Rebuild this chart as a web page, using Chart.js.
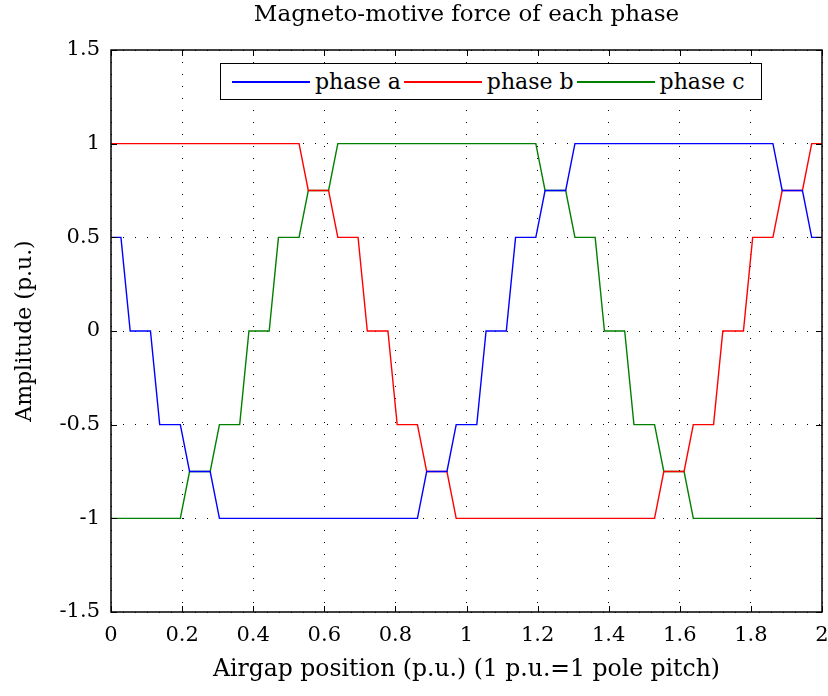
<!DOCTYPE html>
<html>
<head>
<meta charset="utf-8">
<script src="https://cdn.jsdelivr.net/npm/chart.js@4.4.1/dist/chart.umd.min.js"></script>
<style>
  html, body { margin: 0; padding: 0; background: #fff; }
  #wrap { position: relative; width: 828px; height: 696px; }
  #legend {
    position: absolute; left: 220px; top: 63px; width: 542px; height: 37px;
    box-sizing: border-box; border: 1.5px solid #000; background: #fff;
    display: flex; align-items: center; padding-left: 11px;
    font: 22px "DejaVu Serif", serif; color: #000; white-space: nowrap;
  }
  #legend .swatch { display: inline-block; width: 78px; height: 2px; margin-left: 3px; }
  #legend .swatch:first-child { margin-left: 0; }
  #legend .lbl { margin-left: 5px; }
</style>
</head>
<body>
<div id="wrap">
  <canvas id="mmf" width="828" height="696"></canvas>
  <div id="legend"></div>
</div>
<script>
// airgap position (p.u.) and mmf (p.u.) breakpoints
const posA = [0, 0.028, 0.054, 0.111, 0.137, 0.195, 0.221, 0.279, 0.305, 0.862, 0.888, 0.945, 0.971,
  1.029, 1.055, 1.112, 1.138, 1.195, 1.221, 1.279, 1.305, 1.862, 1.888, 1.945, 1.971, 2];
const mmfA = [0.5, 0.5, 0, 0, -0.5, -0.5, -0.75, -0.75, -1, -1, -0.75, -0.75, -0.5,
  -0.5, 0, 0, 0.5, 0.5, 0.75, 0.75, 1, 1, 0.75, 0.75, 0.5, 0.5];

const posB = [0, 0.529, 0.555, 0.612, 0.638, 0.695, 0.721, 0.779, 0.805, 0.862, 0.888, 0.945, 0.971,
  1.529, 1.555, 1.612, 1.638, 1.695, 1.721, 1.779, 1.805, 1.862, 1.888, 1.945, 1.971, 2];
const mmfB = [1, 1, 0.75, 0.75, 0.5, 0.5, 0, 0, -0.5, -0.5, -0.75, -0.75, -1,
  -1, -0.75, -0.75, -0.5, -0.5, 0, 0, 0.5, 0.5, 0.75, 0.75, 1, 1];

const posC = [0, 0.195, 0.221, 0.279, 0.305, 0.362, 0.388, 0.445, 0.471, 0.529, 0.555, 0.612, 0.638,
  1.195, 1.221, 1.279, 1.305, 1.362, 1.388, 1.445, 1.471, 1.529, 1.555, 1.612, 1.638, 2];
const mmfC = [-1, -1, -0.75, -0.75, -0.5, -0.5, 0, 0, 0.5, 0.5, 0.75, 0.75, 1,
  1, 0.75, 0.75, 0.5, 0.5, 0, 0, -0.5, -0.5, -0.75, -0.75, -1, -1];

const phaseLabels = ['phase a', 'phase b', 'phase c'];
const phaseColors = ['#0000ff', '#ff0000', '#008000'];

const xTickValues = [0, 0.2, 0.4, 0.6, 0.8, 1, 1.2, 1.4, 1.6, 1.8, 2];
const xTickLabels = ['0', '0.2', '0.4', '0.6', '0.8', '1', '1.2', '1.4', '1.6', '1.8', '2'];
const yTickValues = [-1.5, -1, -0.5, 0, 0.5, 1, 1.5];
const yTickLabels = ['-1.5', '-1', '-0.5', '0', '0.5', '1', '1.5'];

const FONT = '"DejaVu Serif", serif';

// box round the plot with small inward tick marks on all four sides
const framePlugin = {
  id: 'frame',
  afterDatasetsDraw(chart) {
    const { ctx, chartArea: a, scales: { x, y } } = chart;
    ctx.save();
    ctx.strokeStyle = '#000';
    ctx.lineWidth = 1;
    ctx.beginPath();
    x.ticks.forEach(t => {
      const px = Math.round(x.getPixelForValue(t.value)) + 0.5;
      ctx.moveTo(px, a.bottom); ctx.lineTo(px, a.bottom - 6);
      ctx.moveTo(px, a.top); ctx.lineTo(px, a.top + 6);
    });
    y.ticks.forEach(t => {
      const py = Math.round(y.getPixelForValue(t.value)) + 0.5;
      ctx.moveTo(a.left, py); ctx.lineTo(a.left + 6, py);
      ctx.moveTo(a.right, py); ctx.lineTo(a.right - 6, py);
    });
    ctx.stroke();
    ctx.lineWidth = 1.5;
    ctx.strokeRect(a.left, a.top, a.right - a.left, a.bottom - a.top);
    ctx.restore();
  }
};

function series(i, xs, ys) {
  return {
    label: phaseLabels[i],
    data: xs.map((p, k) => ({ x: p, y: ys[k] })),
    borderColor: phaseColors[i],
    backgroundColor: phaseColors[i],
    borderWidth: 1.4,
    pointRadius: 0,
    tension: 0,
    fill: false,
  };
}

const gridOpts = { color: '#000', lineWidth: 1, drawTicks: false };
const dotted = { display: false, dash: [1, 11] };

new Chart(document.getElementById('mmf'), {
  type: 'line',
  data: {
    datasets: [series(0, posA, mmfA), series(1, posB, mmfB), series(2, posC, mmfC)],
  },
  options: {
    responsive: false,
    animation: false,
    layout: { padding: { left: 0, right: 6, top: 0, bottom: 0 } },
    plugins: {
      legend: { display: false },
      tooltip: { enabled: false },
      title: {
        display: true,
        fullSize: false,
        text: 'Magneto-motive force of each phase',
        color: '#000',
        font: { family: FONT, size: 23, weight: 'normal', lineHeight: 1.2 },
        padding: { top: 1, bottom: 21.4 },
      },
    },
    scales: {
      x: {
        type: 'linear',
        min: 0, max: 2,
        afterBuildTicks: s => { s.ticks = xTickValues.map(v => ({ value: v })); },
        afterFit: s => { s.height = 84; s.paddingLeft = 0; s.paddingRight = 0; },
        grid: gridOpts,
        border: dotted,
        ticks: {
          color: '#000', padding: 11, maxRotation: 0, autoSkip: false,
          font: { family: FONT, size: 21, lineHeight: 1.2 },
          callback: (v, i) => xTickLabels[i],
        },
        title: {
          display: true,
          text: 'Airgap position (p.u.) (1 p.u.=1 pole pitch)',
          color: '#000',
          font: { family: FONT, size: 23.5, lineHeight: 1.2 },
          padding: { top: 0, bottom: 12 },
        },
      },
      y: {
        type: 'linear',
        min: -1.5, max: 1.5,
        afterBuildTicks: s => { s.ticks = yTickValues.map(v => ({ value: v })); },
        afterFit: s => { s.width = 111; s.paddingTop = 0; s.paddingBottom = 0; },
        grid: gridOpts,
        border: dotted,
        ticks: {
          color: '#000', padding: 11, autoSkip: false,
          font: { family: FONT, size: 21, lineHeight: 1.2 },
          callback: (v, i) => yTickLabels[i],
        },
        title: {
          display: true,
          text: 'Amplitude (p.u.)',
          color: '#000',
          font: { family: FONT, size: 22, lineHeight: 1.2 },
          padding: { top: 12, bottom: 0 },
        },
      },
    },
  },
  plugins: [framePlugin],
});

// legend box sitting inside the plot, as in the original figure
const legend = document.getElementById('legend');
phaseLabels.forEach((name, i) => {
  const sw = document.createElement('span');
  sw.className = 'swatch';
  sw.style.backgroundColor = phaseColors[i];
  const tx = document.createElement('span');
  tx.className = 'lbl';
  tx.textContent = name;
  legend.appendChild(sw);
  legend.appendChild(tx);
});
</script>
</body>
</html>
